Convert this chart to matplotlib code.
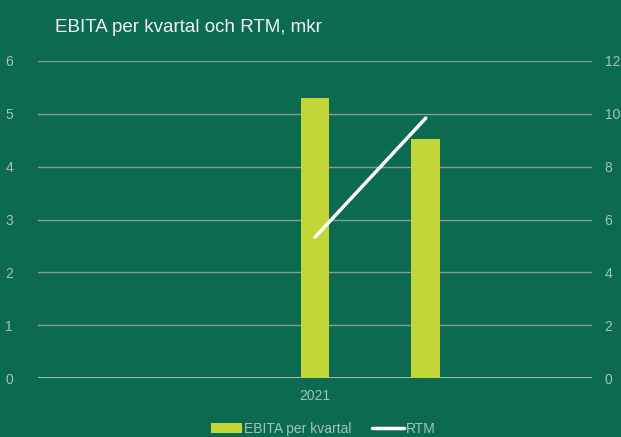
import numpy as np
import matplotlib.pyplot as plt

plt.rcParams['font.family'] = ['Liberation Sans', 'DejaVu Sans']

# data
quarters = ['', '', '2021', '', '']
ebita = [np.nan, np.nan, 5.30, 4.53, np.nan]
rtm = [np.nan, np.nan, 5.33, 9.84, np.nan]

bg = '#0B6A4F'
bar_col = '#C2D737'
grid_col = '#8C9E94'
tick_col = '#A3C4B6'

fig = plt.figure(figsize=(6.21, 4.37), dpi=100, facecolor=bg)
ax = fig.add_axes([38 / 621, 1 - 378 / 437, 554 / 621, 317 / 437])
ax.set_facecolor(bg)
ax2 = ax.twinx()

x = np.arange(len(quarters))
ax.bar(x, ebita, width=0.26, color=bar_col, label='EBITA per kvartal', zorder=3)
ax2.plot(x, rtm, color='white', lw=2.5, solid_capstyle='round', label='RTM', zorder=4)

ax.set_xlim(-0.5, len(quarters) - 0.5)
ax.set_ylim(0, 6)
ax2.set_ylim(0, 12)
ax.set_yticks(range(0, 7))
ax2.set_yticks(range(0, 13, 2))
ax.set_xticks(x)
ax.set_xticklabels(quarters)

ax.grid(axis='y', color=grid_col, lw=1, zorder=0)
for a in (ax, ax2):
    for s in a.spines.values():
        s.set_visible(False)
    a.tick_params(length=0, colors=tick_col, labelsize=10)
ax.tick_params(axis='y', pad=18)
ax2.tick_params(axis='y', pad=9)
ax.tick_params(axis='x', pad=8)
ax.axhline(0, color='#B5C9BE', lw=1.2, zorder=2)

fig.text(55 / 621, 1 - 27 / 437, 'EBITA per kvartal och RTM, mkr', color='#F2F7F4',
         fontsize=13.5, va='center', ha='left')

h1, l1 = ax.get_legend_handles_labels()
h2, l2 = ax2.get_legend_handles_labels()
leg = fig.legend(h1 + h2, l1 + l2, loc='center', bbox_to_anchor=(0.52, 1 - 429 / 437),
                 ncol=2, frameon=False, fontsize=10, handlelength=2.3, handletextpad=0.1,
                 columnspacing=1.5, labelcolor=tick_col)

fig.savefig('out.png', dpi=100, facecolor=bg)
